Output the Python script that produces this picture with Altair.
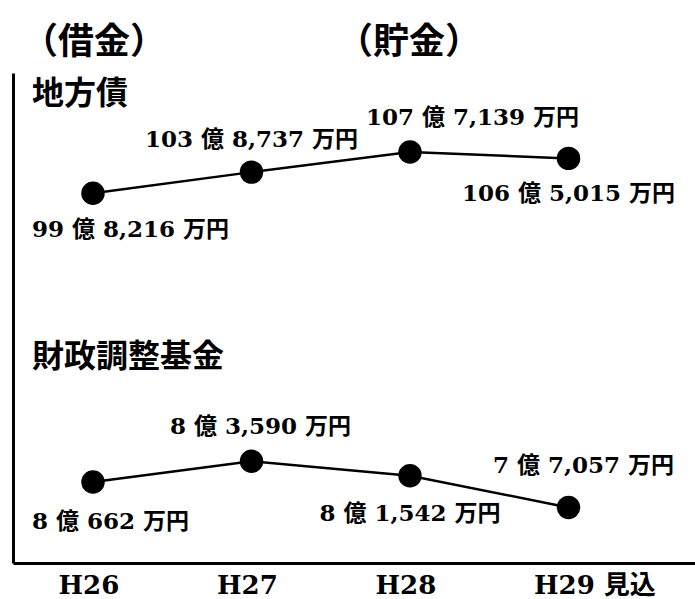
import json
import altair as alt
import pandas as pd

# ---- data (values in 万円) ----
years = ["H26", "H27", "H28", "H29 見込"]
debt_man = [998216, 1038737, 1077139, 1065015]   # 地方債
fund_man = [80662, 83590, 81542, 77057]          # 財政調整基金
panel_titles = ["地方債", "財政調整基金"]
headers = ["（借金）", "（貯金）"]


def fmt(m):
    oku, man = divmod(m, 10000)
    return f"{oku} 億 {man:,} 万円"


def frame(vals):
    return pd.DataFrame({
        "year": years,
        "idx": list(range(len(years))),
        "value": [v / 10000 for v in vals],
        "label": [fmt(v) for v in vals],
    })


df_debt = frame(debt_man)
df_fund = frame(fund_man)

SERIF = "DejaVu Serif, 'Noto Sans CJK JP'"
SANS = "'Noto Sans CJK JP'"

label_expr = json.dumps(years, ensure_ascii=False) + "[datum.value]"

x_enc = alt.X(
    "idx:Q",
    scale=alt.Scale(domain=[-0.5047, 3.798], nice=False, zero=False),
    axis=alt.Axis(title=None, ticks=False, grid=False, domainColor="black",
                  domainWidth=3, labelFont=SERIF, labelFontSize=26,
                  labelFontWeight="bold", labelColor="black", labelAlign="left",
                  labelOffset=-35, labelPadding=9, labelAngle=0,
                  labelOverlap=False, labelFlush=False,
                  values=list(range(len(years))), labelExpr=label_expr),
)

y_top = alt.Y("value:Q",
              scale=alt.Scale(domain=[29.12, 122.83], zero=False, nice=False),
              axis=alt.Axis(title=None, labels=False, ticks=False, grid=False,
                            domainColor="black", domainWidth=3))
y_bot = alt.Y("value:Q",
              scale=alt.Scale(domain=[6.92, 13.85], zero=False, nice=False),
              axis=None)

top_specs = [("left", -61, 37), ("center", 0, -32), ("left", -44, -34), ("center", 0, 36)]
bot_specs = [("left", -61, 40), ("center", 9, -34), ("center", 0, 38), ("center", 15, -41)]


def series(df, y_enc, specs):
    base = alt.Chart(df).encode(x=x_enc, y=y_enc)
    line = base.mark_line(color="black", strokeWidth=2.5)
    pts = base.mark_circle(size=550, color="black", opacity=1)
    texts = [
        base.transform_filter(alt.datum.idx == i)
        .mark_text(align=a, dx=dx, dy=dy, baseline="middle", font=SERIF,
                   fontSize=23, fontWeight="bold", color="black")
        .encode(text="label:N")
        for i, (a, dx, dy) in enumerate(specs)
    ]
    return alt.layer(line, pts, *texts)


def note(txt, x, y, size, align="left"):
    return alt.Chart(pd.DataFrame({"t": [txt]})).mark_text(
        font=SANS, fontSize=size, fontWeight="bold", align=align,
        baseline="middle", color="black"
    ).encode(x=alt.value(x), y=alt.value(y), text="t:N")


top = series(df_debt, y_top, top_specs)
bot = series(df_fund, y_bot, bot_specs)

chart = alt.layer(
    top, bot,
    note(headers[0], 81, -30, 36, "center"),
    note(headers[1], 396, -30, 36, "center"),
    note(panel_titles[0], 19, 21, 32),
    note(panel_titles[1], 19, 284, 32),
).resolve_scale(y="independent").properties(
    width=682, height=490,
    padding={"left": 13, "top": 73, "right": 0, "bottom": 36},
    autosize=alt.AutoSizeParams(type="none"),
    background="white",
).configure_view(stroke=None)

chart.save("out.html", embed_options={"renderer": "svg", "actions": False})
